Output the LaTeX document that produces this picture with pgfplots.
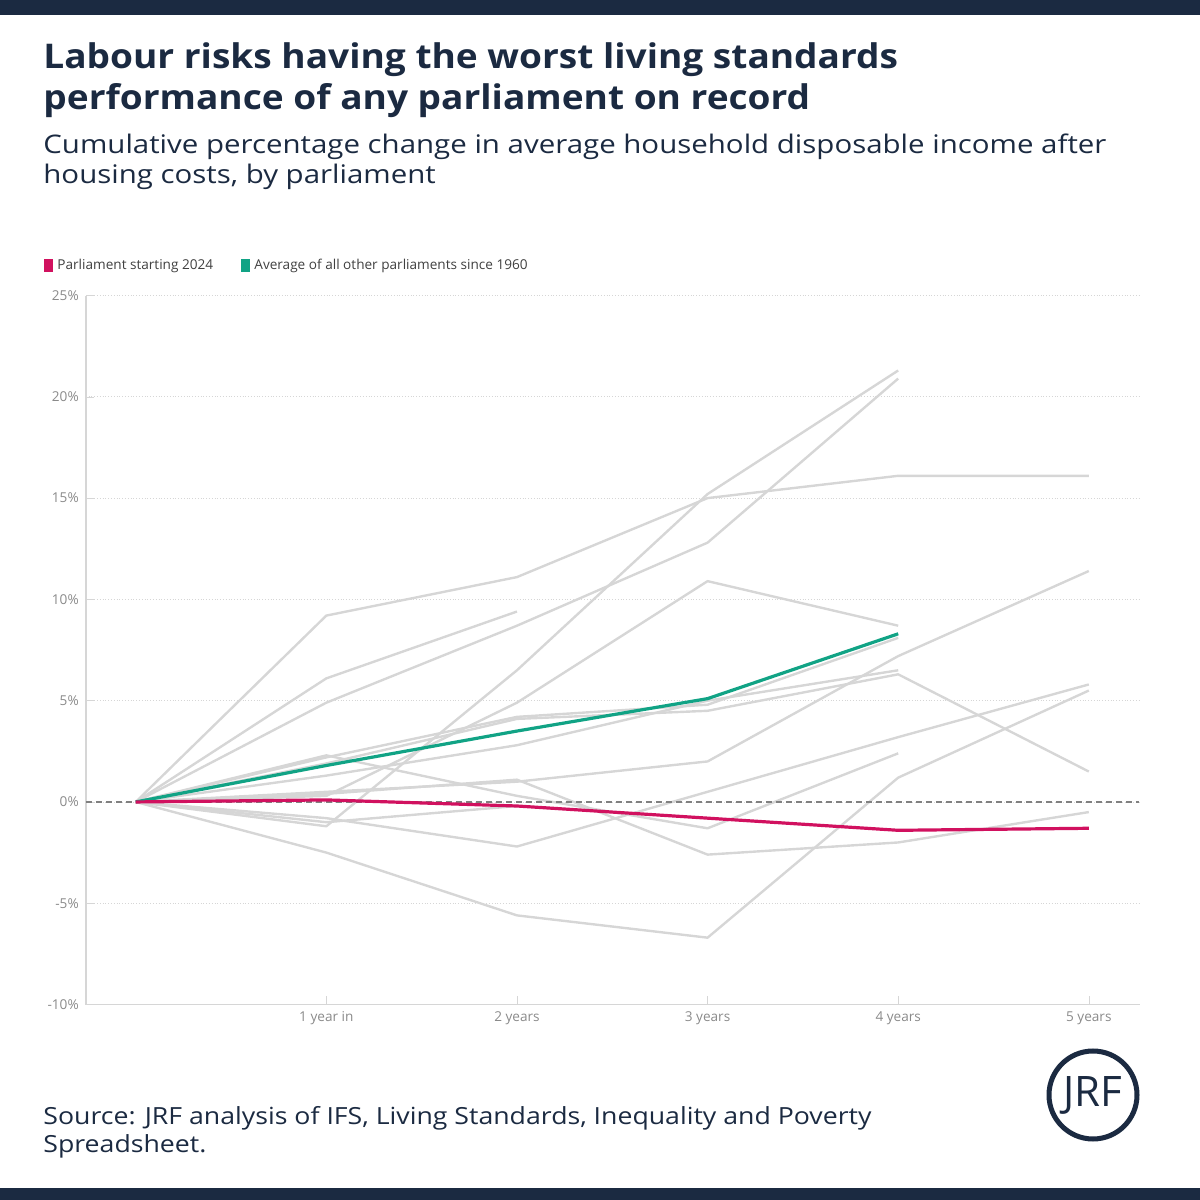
\documentclass[border=0pt]{standalone}
\usepackage{pgfplots}
\pgfplotsset{compat=1.18}
\usepackage{fontspec}
\setmainfont{Open Sans}
\newfontfamily\titlefont[FakeStretch=1.09]{Open Sans}
\newfontfamily\subfont[FakeStretch=1.15]{Open Sans}
\newfontfamily\srcfont[FakeStretch=1.13]{Open Sans}
\definecolor{navy}{HTML}{1B2A41}
\definecolor{gline}{HTML}{D6D6D6}
\definecolor{red24}{HTML}{D1115F}
\definecolor{teal}{HTML}{11A385}
\definecolor{tick}{HTML}{8A8A8A}
\begin{document}
\begin{tikzpicture}[x=1pt,y=1pt]
\path[use as bounding box] (0,0) rectangle (600,600);
\fill[navy] (0,592.5) rectangle (600,600);
\fill[navy] (0,0) rectangle (600,6);
\node[anchor=north west,align=left,font=\titlefont\fontsize{17}{20.5}\selectfont\bfseries,text=navy,inner sep=0] at (21.5,579) {Labour risks having the worst living standards\\performance of any parliament on record};
\node[anchor=north west,align=left,font=\subfont\fontsize{12.8}{15}\selectfont,text=navy,inner sep=0] at (21.5,533) {Cumulative percentage change in average household disposable income after\\housing costs, by parliament};
\fill[red24] (22,464) rectangle (26.5,470.5);
\node[anchor=west,font=\fontsize{6.8}{8}\selectfont,text=black!75,inner sep=0] at (28.5,467) {Parliament starting 2024};
\fill[teal] (120.5,464) rectangle (125,470.5);
\node[anchor=west,font=\fontsize{6.8}{8}\selectfont,text=black!75,inner sep=0] at (127,467) {Average of all other parliaments since 1960};
\node[anchor=north west,align=left,font=\srcfont\fontsize{11.8}{14}\selectfont,text=navy,inner sep=0] at (21.5,47) {Source: JRF analysis of IFS, Living Standards, Inequality and Poverty\\Spreadsheet.};
\draw[navy,line width=2.5pt] (546.5,52.5) circle (22);
\node[font=\fontsize{21}{24}\selectfont,text=navy] at (546.5,52.5) {JRF};
\begin{axis}[at={(45,96.5)},anchor=south west,scale only axis,width=526.5pt,height=354.5pt,
 xmin=-0.262,xmax=5.262,ymin=-10,ymax=25,
 axis x line*=bottom, axis y line*=left,
 axis line style={draw=gline,line width=0.8pt},
 xtick={1,2,3,4,5},xticklabels={1 year in,2 years,3 years,4 years,5 years},
 ytick={-10,-5,0,5,10,15,20,25},yticklabels={-10\%,-5\%,0\%,5\%,10\%,15\%,20\%,25\%},
 ticklabel style={font=\fontsize{6.8}{8}\selectfont,text=tick},
 /pgf/number format/assume math mode=true,
 xtick style={draw=gline},ytick style={draw=gline},
 ymajorgrids, grid style={densely dotted,gline},
 every axis plot/.append style={line width=1.2pt,line join=round},
 clip=false]
\addplot[gline] coordinates {(0,0)(1,9.2)(2,11.1)(3,15.0)(4,16.1)(5,16.1)};
\addplot[gline] coordinates {(0,0)(1,6.1)(2,9.4)};
\addplot[gline] coordinates {(0,0)(1,4.9)(2,8.7)(3,12.8)(4,20.9)};
\addplot[gline] coordinates {(0,0)(1,-1.2)(2,6.5)(3,15.2)(4,21.3)};
\addplot[gline] coordinates {(0,0)(1,0.3)(2,4.9)(3,10.9)(4,8.7)};
\addplot[gline] coordinates {(0,0)(1,2.2)(2,4.2)(3,4.8)(4,8.1)};
\addplot[gline] coordinates {(0,0)(1,1.9)(2,4.1)(3,4.5)(4,6.3)(5,1.5)};
\addplot[gline] coordinates {(0,0)(1,1.3)(2,2.8)(3,5.0)(4,6.5)};
\addplot[gline] coordinates {(0,0)(1,0.5)(2,1.0)(3,2.0)(4,7.2)(5,11.4)};
\addplot[gline] coordinates {(0,0)(1,-0.8)(2,-2.2)(3,0.5)(4,3.2)(5,5.8)};
\addplot[gline] coordinates {(0,0)(1,2.3)(2,0.3)(3,-1.3)(4,2.4)};
\addplot[gline] coordinates {(0,0)(1,0.4)(2,1.1)(3,-2.6)(4,-2.0)(5,-0.5)};
\addplot[gline] coordinates {(0,0)(1,-2.5)(2,-5.6)(3,-6.7)(4,1.2)(5,5.5)};
\addplot[gline] coordinates {(0,0)(1,-1.0)(2,-0.2)};
\addplot[densely dashed,black!50,line width=0.8pt] coordinates {(-0.262,0)(5.262,0)};
\addplot[teal,line width=1.6pt] coordinates {(0,0)(1,1.8)(2,3.5)(3,5.1)(4,8.3)};
\addplot[red24,line width=1.6pt] coordinates {(0,0)(1,0.1)(2,-0.2)(3,-0.8)(4,-1.4)(5,-1.3)};
\end{axis}
\end{tikzpicture}
\end{document}
